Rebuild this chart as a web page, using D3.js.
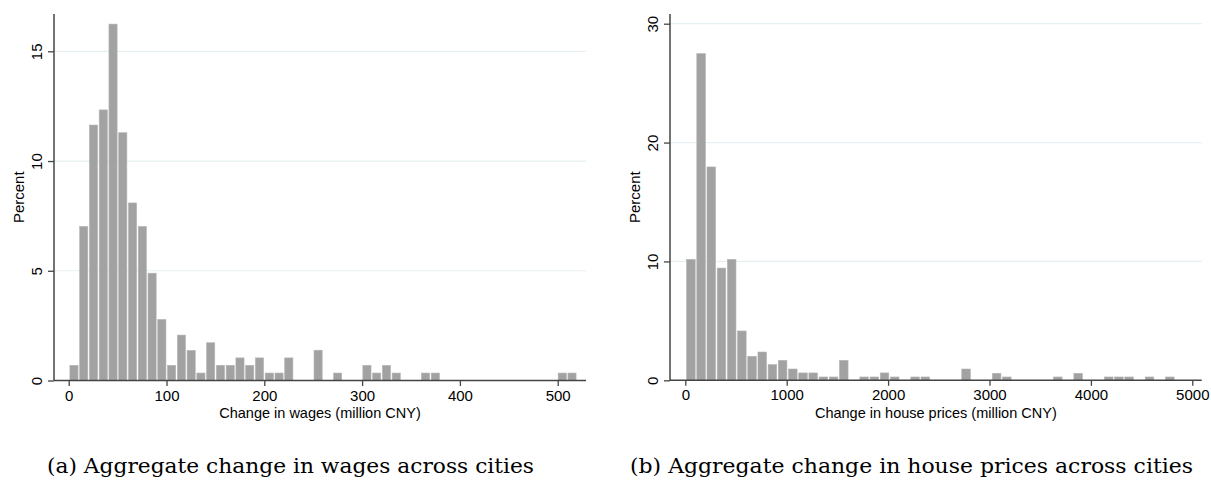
<!DOCTYPE html>
<html>
<head>
<meta charset="utf-8">
<script src="https://cdn.jsdelivr.net/npm/d3@7"></script>
<style>
  body { margin: 0; background: #fff; }
  svg { display: block; }
  text { font-family: "Liberation Sans", Arial, sans-serif; fill: #000; }
  text.caption { font-family: "DejaVu Serif", "Liberation Serif", serif; }
</style>
</head>
<body>
<svg id="chart" width="1211" height="482"></svg>
<script>
// ---------- data ----------
const wageBinStart = 0.6;      // million CNY
const wageBinWidth = 9.985;    // million CNY
const wagePercent = [0.69, 7.02, 11.64, 12.33, 16.24, 11.29, 8.09, 7.02, 4.89, 2.78,
  0.69, 2.07, 1.37, 0.34, 1.72, 0.69, 0.69, 1.03, 0.69, 1.03,
  0.34, 0.34, 1.03, 0, 0, 1.38, 0, 0.34, 0, 0,
  0.69, 0.34, 0.69, 0.34, 0, 0, 0.34, 0.34, 0, 0,
  0, 0, 0, 0, 0, 0, 0, 0, 0, 0,
  0.34, 0.34];
const wageXTicks = [0, 100, 200, 300, 400, 500];
const wageYTicks = [0, 5, 10, 15];

const priceBinStart = 7;
const priceBinWidth = 100.5;
const pricePercent = [10.17, 27.48, 17.95, 9.44, 10.17, 4.15, 2.02, 2.38, 1.32, 1.68,
  0.95, 0.62, 0.62, 0.28, 0.28, 1.68, 0, 0.28, 0.28, 0.62,
  0.28, 0, 0.28, 0.28, 0, 0, 0, 0.95, 0, 0,
  0.59, 0.28, 0, 0, 0, 0, 0.28, 0, 0.59, 0,
  0, 0.28, 0.28, 0.28, 0, 0.28, 0, 0.28];
const priceXTicks = [0, 1000, 2000, 3000, 4000, 5000];
const priceYTicks = [0, 10, 20, 30];

const panels = [
  {
    binStart: wageBinStart, binWidth: wageBinWidth, values: wagePercent,
    xTicks: wageXTicks, yTicks: wageYTicks,
    xDomain: [0, 500], xRange: [68.7, 557.7],
    yDomain: [0, 15], yRange: [380.5, 51.3],
    axisLeft: 54, axisRight: 586, axisTop: 14,
    xTitle: "Change in wages (million CNY)",
    caption: "(a) Aggregate change in wages across cities",
    capX: 47, capLen: 487
  },
  {
    binStart: priceBinStart, binWidth: priceBinWidth, values: pricePercent,
    xTicks: priceXTicks, yTicks: priceYTicks,
    xDomain: [0, 5000], xRange: [685.3, 1192.3],
    yDomain: [0, 30], yRange: [380.3, 23.7],
    axisLeft: 670, axisRight: 1201.7, axisTop: 14,
    xTitle: "Change in house prices (million CNY)",
    caption: "(b) Aggregate change in house prices across cities",
    capX: 630, capLen: 563
  }
];

const svg = d3.select("#chart");
svg.append("rect").attr("width", 1211).attr("height", 482).attr("fill", "#fff");

panels.forEach(p => {
  const x = d3.scaleLinear().domain(p.xDomain).range(p.xRange);
  const y = d3.scaleLinear().domain(p.yDomain).range(p.yRange);
  const g = svg.append("g");
  const y0 = y(0);

  // gridlines
  g.selectAll("line.grid").data(p.yTicks.filter(t => t !== 0)).join("line")
    .attr("x1", p.axisLeft).attr("x2", p.axisRight)
    .attr("y1", d => y(d)).attr("y2", d => y(d))
    .attr("stroke", "#e6eff1").attr("stroke-width", 1.2);

  // bars
  const bins = p.values.map((v, i) => ({
    x0: p.binStart + i * p.binWidth,
    x1: p.binStart + (i + 1) * p.binWidth,
    v
  })).filter(b => b.v > 0);
  g.selectAll("rect.bar").data(bins).join("rect")
    .attr("x", d => x(d.x0) + 0.6)
    .attr("width", d => x(d.x1) - x(d.x0) - 1.6)
    .attr("y", d => y(d.v))
    .attr("height", d => y0 - y(d.v))
    .attr("fill", "#a2a2a2")
    .attr("stroke", "#b4b4b4")
    .attr("stroke-width", 0.6);

  // x axis
  const xAxis = d3.axisBottom(x).tickValues(p.xTicks).tickSize(5.5).tickPadding(4)
    .tickFormat(d3.format("d"));
  const gx = g.append("g").attr("transform", `translate(0,${y0})`).call(xAxis);
  gx.select(".domain").remove();
  gx.selectAll(".tick line").attr("stroke", "#444").attr("stroke-width", 1.3);
  gx.selectAll(".tick text").attr("font-size", 15)
    .attr("font-family", "Liberation Sans, Arial, sans-serif").attr("fill", "#000");
  g.append("line").attr("x1", p.axisLeft).attr("x2", p.axisRight)
    .attr("y1", y0).attr("y2", y0).attr("stroke", "#444").attr("stroke-width", 1.5);

  // y axis
  const yAxis = d3.axisLeft(y).tickValues(p.yTicks).tickSize(0).tickFormat(d3.format("d"));
  const gy = g.append("g").attr("transform", `translate(${p.axisLeft},0)`).call(yAxis);
  gy.select(".domain").remove();
  gy.selectAll(".tick text").remove();
  gy.selectAll(".tick").append("line")
    .attr("x1", -6).attr("x2", 0).attr("stroke", "#444").attr("stroke-width", 1.3);
  gy.selectAll(".tick").append("text")
    .attr("transform", "translate(-12.5,0) rotate(-90)")
    .attr("text-anchor", "middle")
    .attr("font-size", 15)
    .attr("fill", "#000")
    .text(d => d3.format("d")(d));
  g.append("line").attr("x1", p.axisLeft).attr("x2", p.axisLeft)
    .attr("y1", p.axisTop).attr("y2", y0).attr("stroke", "#444").attr("stroke-width", 1.5);

  // axis titles
  g.append("text")
    .attr("x", (p.axisLeft + p.axisRight) / 2).attr("y", 417.5)
    .attr("text-anchor", "middle").attr("font-size", 14.5)
    .text(p.xTitle);
  g.append("text")
    .attr("transform", `translate(${p.axisLeft - 30},${(p.axisTop + y0) / 2}) rotate(-90)`)
    .attr("text-anchor", "middle").attr("font-size", 15)
    .text("Percent");

  // caption
  g.append("text")
    .attr("class", "caption")
    .attr("x", p.capX).attr("y", 473)
    .attr("font-size", 21)
    .attr("textLength", p.capLen)
    .attr("lengthAdjust", "spacingAndGlyphs")
    .text(p.caption);
});
</script>
</body>
</html>
